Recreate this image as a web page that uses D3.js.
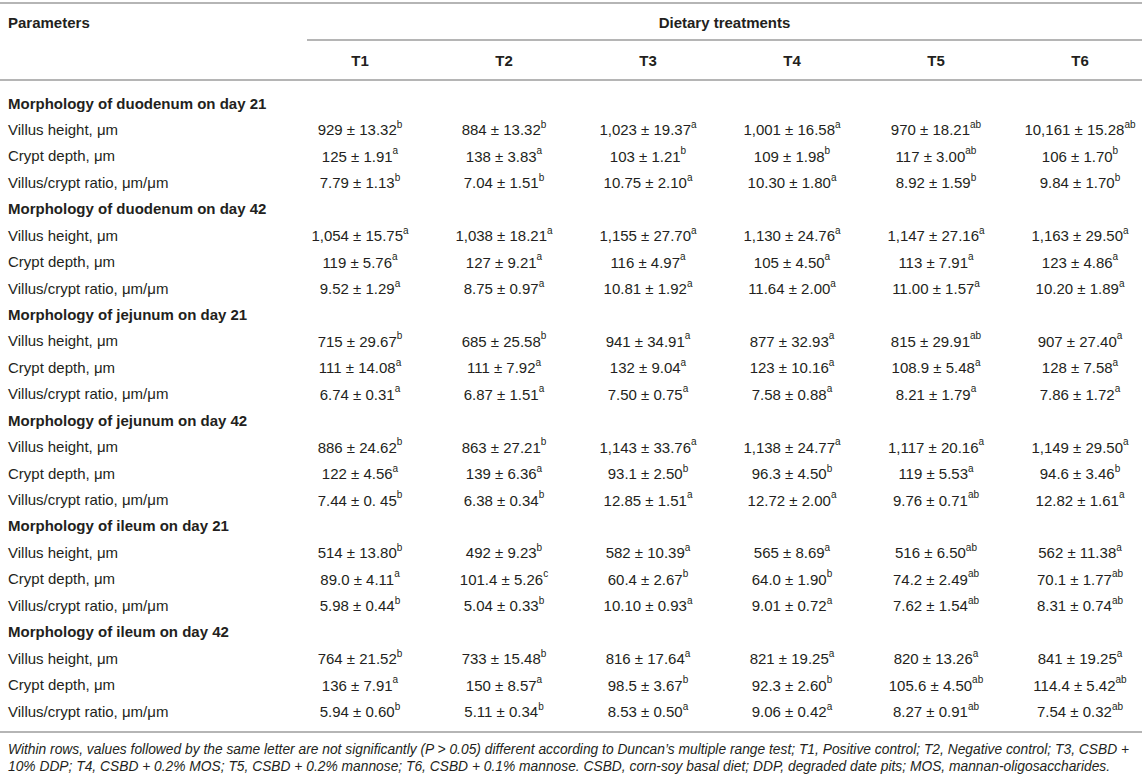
<!DOCTYPE html>
<html>
<head>
<meta charset="utf-8">
<script src="https://cdn.jsdelivr.net/npm/d3@7"></script>
<style>
  html, body { margin: 0; padding: 0; background: #fff; }
  svg { display: block; font-family: "Liberation Sans", Arial, Helvetica, sans-serif; }
</style>
</head>
<body>
<svg id="chart" width="1142" height="779"></svg>
<script>
// Table data
const treatments = ["T1", "T2", "T3", "T4", "T5", "T6"];
const groups = [
  "Morphology of duodenum on day 21",
  "Morphology of duodenum on day 42",
  "Morphology of jejunum on day 21",
  "Morphology of jejunum on day 42",
  "Morphology of ileum on day 21",
  "Morphology of ileum on day 42"
];
const parameters = ["Villus height, \u03bcm", "Crypt depth, \u03bcm", "Villus/crypt ratio, \u03bcm/\u03bcm"];

// one row per group x parameter, one entry per treatment
const means = [
  ["929", "884", "1,023", "1,001", "970", "10,161"],
  ["125", "138", "103", "109", "117", "106"],
  ["7.79", "7.04", "10.75", "10.30", "8.92", "9.84"],
  ["1,054", "1,038", "1,155", "1,130", "1,147", "1,163"],
  ["119", "127", "116", "105", "113", "123"],
  ["9.52", "8.75", "10.81", "11.64", "11.00", "10.20"],
  ["715", "685", "941", "877", "815", "907"],
  ["111", "111", "132", "123", "108.9", "128"],
  ["6.74", "6.87", "7.50", "7.58", "8.21", "7.86"],
  ["886", "863", "1,143", "1,138", "1,117", "1,149"],
  ["122", "139", "93.1", "96.3", "119", "94.6"],
  ["7.44", "6.38", "12.85", "12.72", "9.76", "12.82"],
  ["514", "492", "582", "565", "516", "562"],
  ["89.0", "101.4", "60.4", "64.0", "74.2", "70.1"],
  ["5.98", "5.04", "10.10", "9.01", "7.62", "8.31"],
  ["764", "733", "816", "821", "820", "841"],
  ["136", "150", "98.5", "92.3", "105.6", "114.4"],
  ["5.94", "5.11", "8.53", "9.06", "8.27", "7.54"]
];
const sems = [
  ["13.32", "13.32", "19.37", "16.58", "18.21", "15.28"],
  ["1.91", "3.83", "1.21", "1.98", "3.00", "1.70"],
  ["1.13", "1.51", "2.10", "1.80", "1.59", "1.70"],
  ["15.75", "18.21", "27.70", "24.76", "27.16", "29.50"],
  ["5.76", "9.21", "4.97", "4.50", "7.91", "4.86"],
  ["1.29", "0.97", "1.92", "2.00", "1.57", "1.89"],
  ["29.67", "25.58", "34.91", "32.93", "29.91", "27.40"],
  ["14.08", "7.92", "9.04", "10.16", "5.48", "7.58"],
  ["0.31", "1.51", "0.75", "0.88", "1.79", "1.72"],
  ["24.62", "27.21", "33.76", "24.77", "20.16", "29.50"],
  ["4.56", "6.36", "2.50", "4.50", "5.53", "3.46"],
  ["0. 45", "0.34", "1.51", "2.00", "0.71", "1.61"],
  ["13.80", "9.23", "10.39", "8.69", "6.50", "11.38"],
  ["4.11", "5.26", "2.67", "1.90", "2.49", "1.77"],
  ["0.44", "0.33", "0.93", "0.72", "1.54", "0.74"],
  ["21.52", "15.48", "17.64", "19.25", "13.26", "19.25"],
  ["7.91", "8.57", "3.67", "2.60", "4.50", "5.42"],
  ["0.60", "0.34", "0.50", "0.42", "0.91", "0.32"]
];
const letters = [
  ["b", "b", "a", "a", "ab", "ab"],
  ["a", "a", "b", "b", "ab", "b"],
  ["b", "b", "a", "a", "b", "b"],
  ["a", "a", "a", "a", "a", "a"],
  ["a", "a", "a", "a", "a", "a"],
  ["a", "a", "a", "a", "a", "a"],
  ["b", "b", "a", "a", "ab", "a"],
  ["a", "a", "a", "a", "a", "a"],
  ["a", "a", "a", "a", "a", "a"],
  ["b", "b", "a", "a", "a", "a"],
  ["a", "a", "b", "b", "a", "b"],
  ["b", "b", "a", "a", "ab", "a"],
  ["b", "b", "a", "a", "ab", "a"],
  ["a", "c", "b", "b", "ab", "ab"],
  ["b", "b", "a", "a", "ab", "ab"],
  ["b", "b", "a", "a", "a", "a"],
  ["a", "a", "b", "b", "ab", "ab"],
  ["b", "b", "a", "a", "ab", "ab"]
];
const footnotes = [
  "Within rows, values followed by the same letter are not significantly (P > 0.05) different according to Duncan\u2019s multiple range test; T1, Positive control; T2, Negative control; T3, CSBD +",
  "10% DDP; T4, CSBD + 0.2% MOS; T5, CSBD + 0.2% mannose; T6, CSBD + 0.1% mannose. CSBD, corn-soy basal diet; DDP, degraded date pits; MOS, mannan-oligosaccharides."
];

const W = 1142;
const fontSize = 15;
const textColor = "#231f20";
const ruleColor = "#b5b5b5";
const svg = d3.select("#chart");

// Scales: columns by treatment, lines by index
const x = d3.scalePoint().domain(treatments).range([360, 1080]);
const lineCount = groups.length * (parameters.length + 1);
const y = d3.scaleLinear().domain([0, lineCount - 1]).range([103, 711]);

// Build the body lines: group header then its parameter rows
const lines = [];
groups.forEach((g, gi) => {
  lines.push({ type: "group", label: g });
  parameters.forEach((p, pi) => {
    lines.push({ type: "row", label: p, row: gi * parameters.length + pi });
  });
});

// Horizontal rules
const rules = [
  { y: 3, x1: 0, x2: W },
  { y: 40, x1: 307, x2: W },
  { y: 80, x1: 0, x2: W },
  { y: 732, x1: 0, x2: W }
];
svg.selectAll(".rule").data(rules).enter().append("line")
  .attr("class", "rule")
  .attr("x1", d => d.x1).attr("x2", d => d.x2)
  .attr("y1", d => d.y).attr("y2", d => d.y)
  .attr("stroke", ruleColor).attr("stroke-width", 2);

// Header
svg.append("text")
  .attr("x", 8).attr("y", 22)
  .attr("dominant-baseline", "central")
  .attr("font-size", fontSize).attr("font-weight", "bold").attr("fill", textColor)
  .text("Parameters");

svg.append("text")
  .attr("x", (307 + W) / 2).attr("y", 22)
  .attr("text-anchor", "middle").attr("dominant-baseline", "central")
  .attr("font-size", fontSize).attr("font-weight", "bold").attr("fill", textColor)
  .text("Dietary treatments");

svg.selectAll(".treat").data(treatments).enter().append("text")
  .attr("class", "treat")
  .attr("x", d => x(d)).attr("y", 60)
  .attr("text-anchor", "middle").attr("dominant-baseline", "central")
  .attr("font-size", fontSize).attr("font-weight", "bold").attr("fill", textColor)
  .text(d => d);

// Body labels
svg.selectAll(".label").data(lines).enter().append("text")
  .attr("class", "label")
  .attr("x", 8).attr("y", (d, i) => y(i))
  .attr("dominant-baseline", "central")
  .attr("font-size", fontSize)
  .attr("font-weight", d => d.type === "group" ? "bold" : "normal")
  .attr("fill", textColor)
  .text(d => d.label);

// Body values with superscript letters
lines.forEach((d, i) => {
  if (d.type !== "row") return;
  treatments.forEach((t, ti) => {
    const cell = svg.append("text")
      .attr("x", x(t)).attr("y", y(i))
      .attr("text-anchor", "middle").attr("dominant-baseline", "central")
      .attr("font-size", fontSize).attr("fill", textColor);
    cell.append("tspan").text(means[d.row][ti] + " \u00b1 " + sems[d.row][ti]);
    cell.append("tspan")
      .attr("font-size", 10).attr("dy", -5.5)
      .text(letters[d.row][ti]);
  });
});

// Footnote
svg.selectAll(".foot").data(footnotes).enter().append("text")
  .attr("class", "foot")
  .attr("x", 8).attr("y", (d, i) => 749 + i * 17.5)
  .attr("dominant-baseline", "central")
  .attr("font-size", 13.8).attr("font-style", "italic").attr("fill", textColor)
  .text(d => d);
</script>
</body>
</html>
